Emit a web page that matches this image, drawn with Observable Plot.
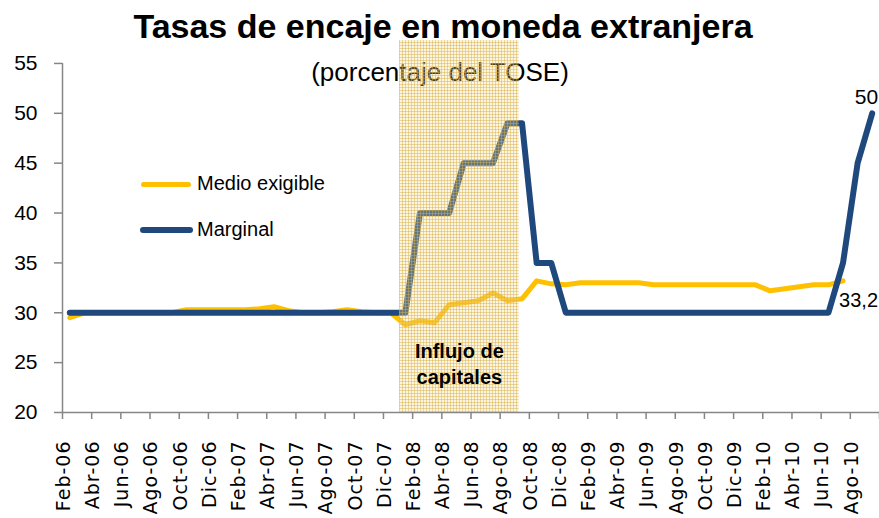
<!DOCTYPE html>
<html><head><meta charset="utf-8">
<script src="https://cdn.jsdelivr.net/npm/d3@7"></script>
<script src="https://cdn.jsdelivr.net/npm/@observablehq/plot@0.6"></script>
<style>
body{margin:0;background:#fff;}
#wrap{position:relative;width:879px;height:518px;overflow:hidden;background:#fff;}
.leg{position:absolute;font-family:"Liberation Sans",Arial,sans-serif;font-size:20px;color:#000;line-height:20px;white-space:nowrap;}
.legline{position:absolute;}
</style></head><body><div id="wrap"></div>
<script>
// ---- Data ----
const meses = ["Feb-06","Mar-06","Abr-06","May-06","Jun-06","Jul-06","Ago-06","Sep-06","Oct-06","Nov-06","Dic-06",
  "Ene-07","Feb-07","Mar-07","Abr-07","May-07","Jun-07","Jul-07","Ago-07","Sep-07","Oct-07","Nov-07","Dic-07",
  "Ene-08","Feb-08","Mar-08","Abr-08","May-08","Jun-08","Jul-08","Ago-08","Sep-08","Oct-08","Nov-08","Dic-08",
  "Ene-09","Feb-09","Mar-09","Abr-09","May-09","Jun-09","Jul-09","Ago-09","Sep-09","Oct-09","Nov-09","Dic-09",
  "Ene-10","Feb-10","Mar-10","Abr-10","May-10","Jun-10","Jul-10","Ago-10","Sep-10"];
const medioExigible = [29.5,30.0,30.0,30.0,30.0,30.0,30.0,30.0,30.3,30.3,
  30.3,30.3,30.3,30.4,30.6,30.2,30.0,30.0,30.1,30.3,
  30.1,30.0,30.0,28.8,29.2,29.0,30.8,31.0,31.2,32.0,
  31.2,31.4,33.2,32.9,32.8,33.0,33.0,33.0,33.0,33.0,
  32.8,32.8,32.8,32.8,32.8,32.8,32.8,32.8,32.2,32.4,
  32.6,32.8,32.8,33.2,null,null];
const marginal = [30,30,30,30,30,30,30,30,30,30,
  30,30,30,30,30,30,30,30,30,30,
  30,30,30,30,40,40,40,45,45,45,
  49,49,35,35,30,30,30,30,30,30,
  30,30,30,30,30,30,30,30,30,30,
  30,30,30,35,45,50];
const yTicks = [20,25,30,35,40,45,50,55];
const zonaInflujo = {inicio: 22.6, fin: 30.8, etiqueta: "Influjo de\ncapitales"};
const titulo = "Tasas de encaje en moneda extranjera";
const subtitulo = "(porcentaje del TOSE)";
const series = [{nombre: "Medio exigible", color: "#FFC000"}, {nombre: "Marginal", color: "#1F497D"}];

// ---- Build ----
const yTop = 57.3;
const filas = meses.map((m, i) => ({i, mes: m, medio: medioExigible[i], marginal: marginal[i]}));
const etiquetasX = meses.map((m, i) => i).filter(i => i % 2 === 0);
const limitesX = d3.range(-0.5, meses.length, 2);
const ultMedio = filas.filter(d => d.medio != null).at(-1);
const ultMarginal = filas.at(-1);
const fmt = v => String(v).replace(".", ",");
const gris = "#868686";
const fuente = "'Liberation Sans', Arial, sans-serif";

const svg = Plot.plot({
  width: 879, height: 518,
  marginTop: 40, marginBottom: 106, marginLeft: 62, marginRight: 0,
  x: {type: "linear", domain: [-0.5, meses.length - 0.5], axis: null},
  y: {domain: [20, yTop], axis: null, label: null},
  style: {fontFamily: fuente, background: "white", color: "black"},
  marks: [
    Plot.text([subtitulo], {frameAnchor: "top", lineAnchor: "middle", text: d => d, dx: -31, dy: 32, fontSize: 26, fill: "black"}),
    Plot.text([titulo], {frameAnchor: "top", lineAnchor: "middle", text: d => d, dx: -28, dy: -13, fontSize: 34, fontWeight: "bold", fill: "black"}),
    Plot.ruleY([20], {stroke: gris, strokeWidth: 1.5}),
    Plot.ruleX([-0.5], {y1: 20, y2: 55, stroke: gris, strokeWidth: 1.5}),
    Plot.axisY(yTicks, {tickSize: 8, tickPadding: 17, fontSize: 21, stroke: gris, strokeWidth: 1.5, fill: "black", label: null}),
    Plot.axisX(limitesX, {tickSize: 7, tickFormat: () => "", stroke: gris, strokeWidth: 1.5, label: null}),
    Plot.text(etiquetasX, {x: d => d, text: d => meses[d], frameAnchor: "bottom", rotate: -90, textAnchor: "end", dy: 28, fontFamily: "'DejaVu Sans', sans-serif", fontSize: 19, fill: "black", className: "xlab"}),
    Plot.line(filas, {x: "i", y: "medio", stroke: series[0].color, strokeWidth: 5, strokeLinecap: "round", strokeLinejoin: "round"}),
    Plot.line(filas, {x: "i", y: "marginal", stroke: series[1].color, strokeWidth: 6, strokeLinecap: "round", strokeLinejoin: "round"}),
    Plot.rect([zonaInflujo], {x1: d => d.inicio, x2: d => d.fin, y1: 20, y2: yTop, fill: "url(#patInflujo)"}),
    Plot.text([zonaInflujo], {x: d => (d.inicio + d.fin) / 2, y: 25, text: d => d.etiqueta, fontSize: 20, fontWeight: "bold", lineHeight: 1.3, fill: "black"}),
    Plot.text([ultMarginal], {x: "i", y: "marginal", text: d => fmt(d.marginal), textAnchor: "end", dx: 6, dy: -16, fontSize: 21, fill: "black"}),
    Plot.text([ultMedio], {x: "i", y: "medio", text: d => fmt(d.medio), textAnchor: "end", dx: 35, dy: 20, fontSize: 20, fill: "black"})
  ]
});
d3.select(svg).insert("defs", ":first-child").html(
  '<pattern id="patInflujo" width="3" height="3" patternUnits="userSpaceOnUse">' +
  '<rect width="3" height="3" fill="#F3DE9C" fill-opacity="0.3"/>' +
  '<path d="M0 0.5H3M0.5 0V3" stroke="#DAAE42" stroke-width="1" stroke-opacity="0.45"/>' +
  '</pattern>');
d3.select(svg).selectAll("text").filter(function() { return this.closest("g.xlab"); }).attr("letter-spacing", "1");
const wrap = document.getElementById("wrap");
wrap.appendChild(svg);

// legend overlay
const legPos = [{x: 141, y: 184, w: 50, t: 5}, {x: 140, y: 230, w: 53, t: 6}];
series.forEach((s, k) => {
  const p = legPos[k];
  const ln = document.createElement("div");
  ln.className = "legline";
  Object.assign(ln.style, {left: p.x + "px", top: (p.y - p.t / 2) + "px", width: p.w + "px", height: p.t + "px", background: s.color, borderRadius: (p.t / 2) + "px"});
  wrap.appendChild(ln);
  const tx = document.createElement("div");
  tx.className = "leg";
  tx.textContent = s.nombre;
  Object.assign(tx.style, {left: "197px", top: (p.y - 11) + "px"});
  wrap.appendChild(tx);
});
</script></body></html>
